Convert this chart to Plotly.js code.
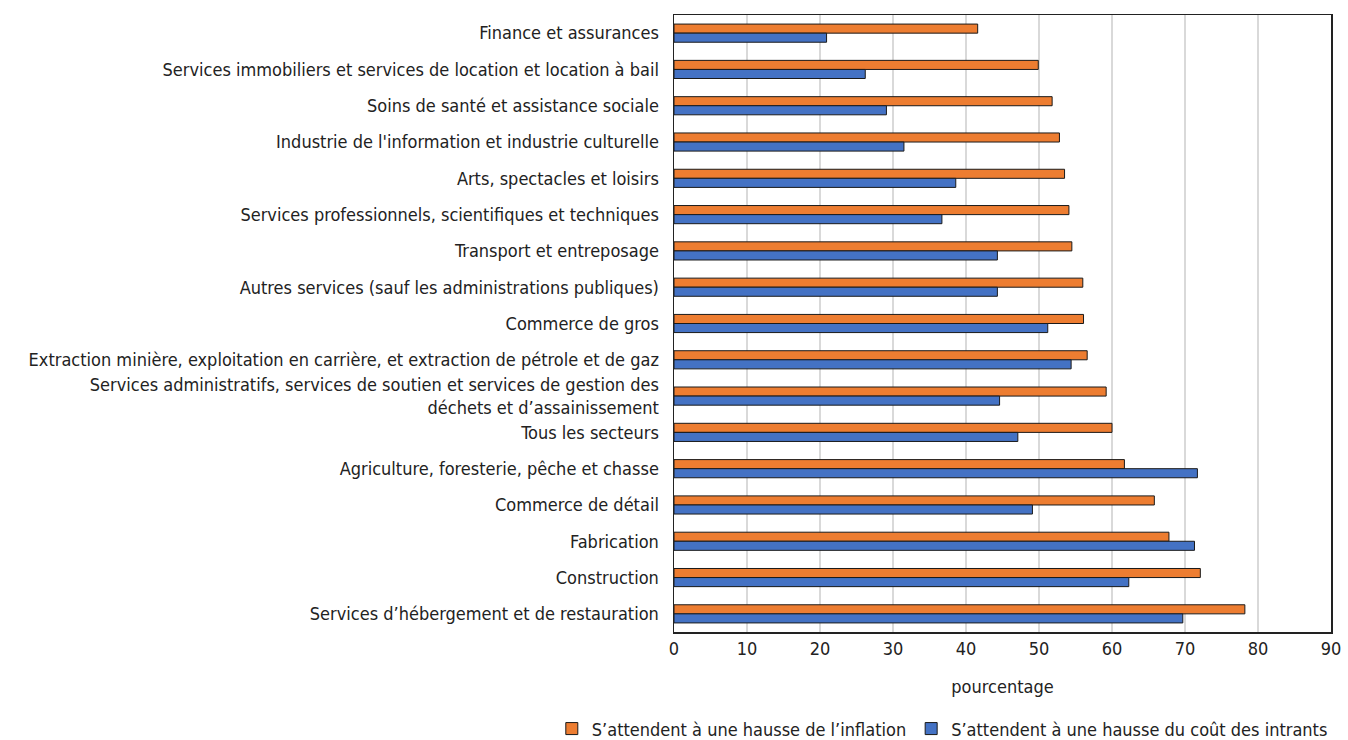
<!DOCTYPE html>
<html>
<head>
<meta charset="utf-8">
<script src="https://cdn.plot.ly/plotly-3.0.1.min.js"></script>
<style>html,body{margin:0;padding:0;background:#fff;}#chart{width:1348px;height:740px;}</style>
</head>
<body>
<div id="chart"></div>
<script>
const categories = [
  "Finance et assurances",
  "Services immobiliers et services de location et location à bail",
  "Soins de santé et assistance sociale",
  "Industrie de l'information et industrie culturelle",
  "Arts, spectacles et loisirs",
  "Services professionnels, scientifiques et techniques",
  "Transport et entreposage",
  "Autres services (sauf les administrations publiques)",
  "Commerce de gros",
  "Extraction minière, exploitation en carrière, et extraction de pétrole et de gaz",
  "Services administratifs, services de soutien et services de gestion des<br>déchets et d’assainissement",
  "Tous les secteurs",
  "Agriculture, foresterie, pêche et chasse",
  "Commerce de détail",
  "Fabrication",
  "Construction",
  "Services d’hébergement et de restauration"
];
const inflation = [41.6, 49.9, 51.8, 52.8, 53.5, 54.1, 54.5, 56.0, 56.1, 56.6, 59.2, 60.0, 61.7, 65.8, 67.8, 72.1, 78.2];
const intrants  = [20.9, 26.2, 29.1, 31.5, 38.6, 36.7, 44.3, 44.3, 51.2, 54.4, 44.6, 47.1, 71.7, 49.1, 71.3, 62.3, 69.7];
const seriesNames = ["S’attendent à une hausse de l’inflation", "S’attendent à une hausse du coût des intrants"];
const xTicks = [0, 10, 20, 30, 40, 50, 60, 70, 80, 90];

const FONT = "'DejaVu Sans Condensed', 'Liberation Sans Narrow', sans-serif";

const traces = [
  {type: 'bar', orientation: 'h', name: seriesNames[0], y: categories, x: inflation,
   marker: {color: '#ED7D31', line: {color: '#1a1a1a', width: 1}}, hoverinfo: 'x'},
  {type: 'bar', orientation: 'h', name: seriesNames[1], y: categories, x: intrants,
   marker: {color: '#4472C4', line: {color: '#1a1a1a', width: 1}}, hoverinfo: 'x'}
];

const layout = {
  width: 1348, height: 740,
  margin: {l: 674, r: 17, t: 15, b: 108, autoexpand: false},
  paper_bgcolor: '#fff', plot_bgcolor: '#fff',
  font: {family: FONT, size: 18, color: '#222'},
  barmode: 'group', bargap: 0.5, bargroupgap: 0,
  showlegend: true,
  legend: {orientation: 'h', x: -0.186, xanchor: 'left', y: -0.157, yanchor: 'middle',
           font: {family: FONT, size: 18, color: '#222'}, traceorder: 'normal',
           itemwidth: 30},
  xaxis: {range: [0, 90], tickvals: xTicks, ticktext: xTicks.map(String),
          showgrid: true, gridcolor: '#d9d9d9', gridwidth: 1.5,
          showline: true, linecolor: '#222', linewidth: 1.5, mirror: true,
          ticks: '', zeroline: false, automargin: true,
          title: {text: 'pourcentage', font: {family: FONT, size: 18, color: '#222'}, standoff: 22},
          tickfont: {family: FONT, size: 18, color: '#222'}, fixedrange: true},
  yaxis: {type: 'category', autorange: 'reversed', showgrid: false,
          showline: true, linecolor: '#222', linewidth: 1.5, mirror: true,
          ticks: '', ticklabelstandoff: 10, automargin: false,
          tickfont: {family: FONT, size: 18, color: '#222'}, fixedrange: true}
};

Plotly.newPlot('chart', traces, layout, {displayModeBar: false, staticPlot: true});
</script>
</body>
</html>
